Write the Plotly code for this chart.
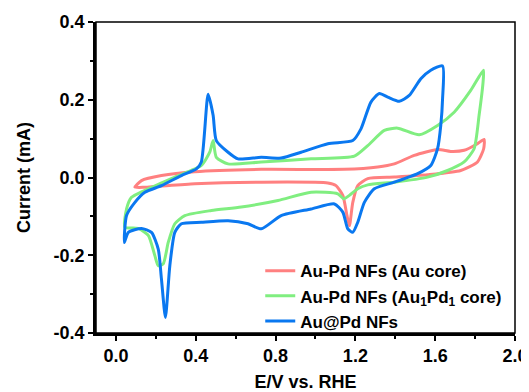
import plotly.graph_objects as go

# Au-Pd NFs (Au core)
red_x = [0.095, 0.128, 0.228, 0.395, 0.728, 1.145, 1.312, 1.395, 1.495, 1.612, 1.678, 1.745, 1.812, 1.845,
         1.843, 1.812, 1.728, 1.562, 1.395, 1.262, 1.212, 1.187, 1.17, 1.158, 1.137, 1.103, 1.062, 0.728, 0.395, 0.145, 0.095]
red_y = [-0.025, -0.008, 0.005, 0.015, 0.021, 0.021, 0.027, 0.035, 0.057, 0.072, 0.067, 0.07, 0.087, 0.098,
         0.074, 0.04, 0.018, 0.007, 0.001, -0.003, -0.021, -0.064, -0.124, -0.098, -0.046, -0.021, -0.014, -0.012, -0.016, -0.025, -0.025]

# Au-Pd NFs (Au1Pd1 core)
green_x = [0.045, 0.053, 0.078, 0.162, 0.295, 0.428, 0.47, 0.487, 0.503, 0.562, 0.728, 0.978, 1.195, 1.262, 1.345,
           1.412, 1.52, 1.612, 1.695, 1.778, 1.842,
           1.84, 1.82, 1.795, 1.745, 1.662, 1.562, 1.395, 1.262, 1.212, 1.17, 1.142, 1.112, 0.978, 0.812, 0.628,
           0.478, 0.345, 0.295, 0.262, 0.237, 0.212, 0.195, 0.162, 0.112, 0.045]
green_y = [-0.128, -0.081, -0.051, -0.029, 0.001, 0.031, 0.065, 0.095, 0.052, 0.035, 0.04, 0.048, 0.055, 0.082, 0.121,
           0.127, 0.11, 0.134, 0.168, 0.224, 0.276,
           0.246, 0.16, 0.074, 0.04, 0.018, 0.001, -0.012, -0.019, -0.029, -0.046, -0.055, -0.042, -0.038, -0.059, -0.076,
           -0.085, -0.098, -0.119, -0.167, -0.222, -0.227, -0.201, -0.149, -0.131, -0.128]

# Au@Pd NFs
blue_x = [0.042, 0.053, 0.095, 0.145, 0.228, 0.328, 0.403, 0.428, 0.462, 0.487, 0.503, 0.562, 0.612, 0.728, 0.828,
          0.928, 1.062, 1.187, 1.228, 1.278, 1.32, 1.362, 1.42, 1.47, 1.528, 1.578, 1.637,
          1.637, 1.628, 1.612, 1.578, 1.512, 1.395, 1.295, 1.245, 1.212, 1.187, 1.162, 1.137, 1.095, 0.978, 0.828,
          0.728, 0.662, 0.562, 0.428, 0.328, 0.295, 0.27, 0.248, 0.228, 0.212, 0.178, 0.128, 0.062, 0.042]
blue_y = [-0.167, -0.098, -0.064, -0.038, -0.021, 0.005, 0.022, 0.04, 0.214, 0.16, 0.095, 0.065, 0.048, 0.052, 0.05,
          0.065, 0.087, 0.095, 0.125, 0.194, 0.216, 0.207, 0.196, 0.211, 0.254, 0.276, 0.287,
          0.203, 0.134, 0.074, 0.031, 0.01, -0.012, -0.029, -0.064, -0.115, -0.141, -0.132, -0.089, -0.068, -0.081, -0.098,
          -0.132, -0.119, -0.111, -0.115, -0.119, -0.141, -0.227, -0.36, -0.261, -0.184, -0.141, -0.131, -0.141, -0.167]

names = ["Au-Pd NFs (Au core)", "Au-Pd NFs (Au<sub>1</sub>Pd<sub>1</sub> core)", "Au@Pd NFs"]
colors = ["#FF8080", "#80EE80", "#0A78F0"]

x_ticks = [0.0, 0.4, 0.8, 1.2, 1.6, 2.0]
y_ticks = [-0.4, -0.2, 0.0, 0.2, 0.4]

fig = go.Figure()
for xs, ys, nm, c in zip([red_x, green_x, blue_x], [red_y, green_y, blue_y], names, colors):
    fig.add_trace(go.Scatter(x=xs, y=ys, mode="lines", name=nm,
                             line=dict(color=c, width=3, shape="spline", smoothing=0.6)))

font = "Liberation Sans, Arial, sans-serif"
# page body has an 8px default margin, so the figure is drawn 8px smaller
fig.update_layout(
    width=521, height=384,
    margin=dict(l=88, r=14, t=14, b=59),
    paper_bgcolor="white", plot_bgcolor="white",
    font=dict(family=font, color="black"),
    showlegend=True,
    legend=dict(x=0.392, y=-0.02, xanchor="left", yanchor="bottom", bgcolor="rgba(0,0,0,0)",
                font=dict(size=17, family=font, color="black", weight="bold"),
                itemwidth=30, tracegroupgap=0),
    xaxis=dict(range=[-0.1, 2.0], tickvals=x_ticks, ticktext=[f"{v:.1f}" for v in x_ticks],
               automargin=False,
               showgrid=False, zeroline=False, showline=True, linecolor="black", linewidth=2.5,
               ticks="outside", ticklen=5, tickwidth=2, tickcolor="black",
               minor=dict(dtick=0.2, tick0=0.0, ticks="outside", ticklen=3, tickwidth=1.5, tickcolor="black"),
               tickfont=dict(size=18, family=font, weight="bold"),
               title=dict(text="E/V vs. RHE", font=dict(size=18, family=font, weight="bold"), standoff=12)),
    yaxis=dict(range=[-0.4, 0.4], tickvals=y_ticks, ticktext=[f"{v:.1f}" for v in y_ticks],
               automargin=False,
               showgrid=False, zeroline=False, showline=True, linecolor="black", linewidth=2.5,
               ticks="outside", ticklen=5, tickwidth=2, tickcolor="black",
               minor=dict(dtick=0.1, tick0=0.0, ticks="outside", ticklen=3, tickwidth=1.5, tickcolor="black"),
               tickfont=dict(size=18, family=font, weight="bold"),
               title=dict(text="Current (mA)", font=dict(size=18, family=font, weight="bold"), standoff=19)),
    shapes=[dict(type="rect", xref="paper", yref="paper", x0=0, y0=0, x1=1, y1=1,
                 line=dict(color="black", width=1.5), layer="above")],
)

fig.write_html("out.html")
